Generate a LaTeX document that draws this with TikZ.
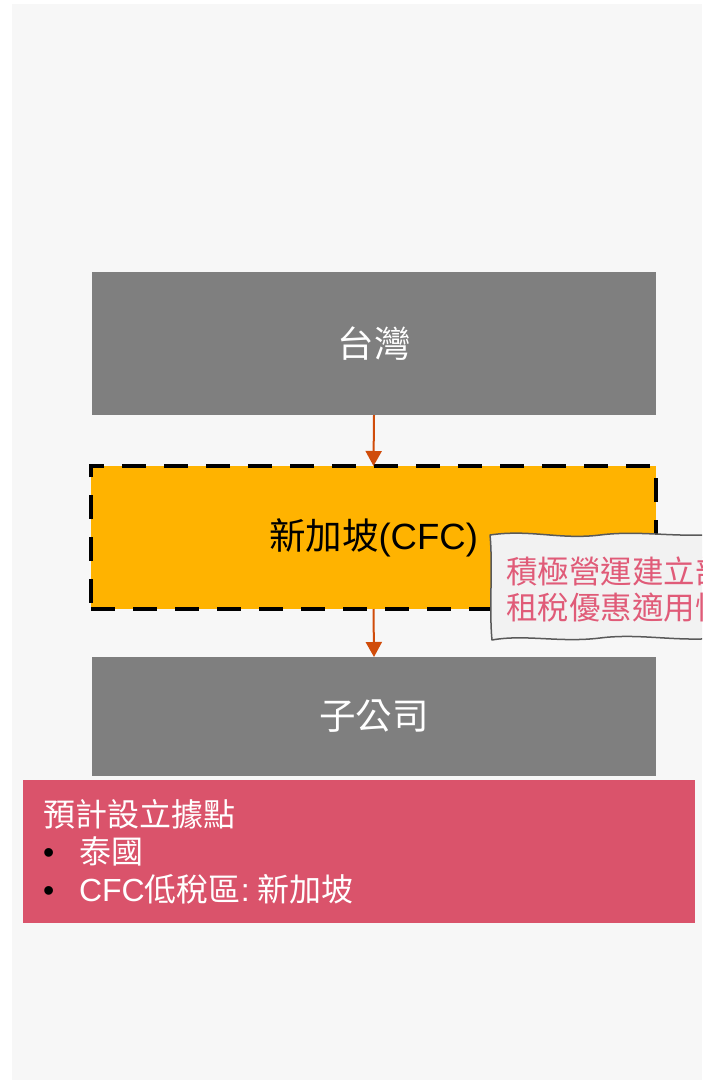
\documentclass[tikz,border=0pt]{standalone}
\usepackage{fontspec}
\setmainfont{Liberation Sans}
\newfontfamily\cjk{Noto Sans CJK TC}
\newcommand\zh[1]{{\cjk #1}}
\usetikzlibrary{arrows.meta}
\definecolor{bgc}{HTML}{F7F7F7}
\definecolor{boxgray}{HTML}{7F7F7F}
\definecolor{cfcorange}{HTML}{FFB300}
\definecolor{planred}{HTML}{DA536B}
\definecolor{arrowc}{HTML}{D04C0A}
\definecolor{notefill}{HTML}{F2F2F2}
\definecolor{noteline}{HTML}{595959}
\definecolor{notetext}{HTML}{E05B78}
\tikzset{
  graybox/.style={rectangle, fill=boxgray, text=white, inner sep=0pt, outer sep=0pt,
    font=\fontsize{36.5}{44}\selectfont},
  cfcbox/.style={rectangle, fill=cfcorange, draw=black, line width=4pt,
    dash pattern=on 24pt off 18pt, inner sep=0pt, outer sep=0pt,
    font=\fontsize{36.5}{44}\selectfont},
  planbox/.style={rectangle, fill=planred, text=white, inner xsep=20pt, inner ysep=0pt,
    outer sep=0pt, align=left, font=\fontsize{32}{37.5}\selectfont},
  notetxt/.style={anchor=west, text=notetext, align=left, inner sep=0pt,
    font=\fontsize{31.5}{36}\selectfont},
  noteshape/.style={fill=notefill, draw=noteline, line width=1.5pt, line join=round},
  arr/.style={draw=arrowc, line width=2pt, -{Triangle[width=16pt,length=15pt]}}
}
\begin{document}
\begin{tikzpicture}[x=1pt,y=-1pt]
\useasboundingbox (0,0) rectangle (702,1083);
\fill[bgc] (12,4) rectangle (702,1080);
\node[graybox, minimum width=564pt, minimum height=143pt] (tw) at (374,343.5) {\zh{台灣}};
\node[cfcbox, minimum width=565pt, minimum height=143pt] (sg) at (373.5,537.5) {\zh{新加坡}(CFC)};
\node[graybox, minimum width=564pt, minimum height=119pt] (sub) at (374,716.5) {\zh{子公司}};
\node[planbox, text width=632pt, minimum height=143pt] (plan) at (359,851.5)
  {\zh{預計設立據點}\\
   \makebox[36pt][l]{\textcolor{black}{•}}\zh{泰國}\\
   \makebox[36pt][l]{\textcolor{black}{•}}CFC\zh{低稅區}:\hspace{8pt}\zh{新加坡}};
\draw[arr] (tw.south) -- (sg.north);
\draw[arr] (sg.south) -- (sub.north);
\begin{scope}
\clip (0,0) rectangle (702,1083);
\draw[noteshape] (490,535)
  .. controls (530,529) and (560,540) .. (600,535)
  .. controls (640,530) and (675,538) .. (720,534)
  -- (720,638)
  .. controls (675,642) and (640,633) .. (600,638)
  .. controls (560,643) and (525,634) .. (492,640)
  .. controls (489,610) and (493,565) .. cycle;
\node[notetxt] (note) at (506,590)
  {\zh{積極營運建立部}\\\zh{租稅優惠適用性}};
\end{scope}
\end{tikzpicture}
\end{document}
